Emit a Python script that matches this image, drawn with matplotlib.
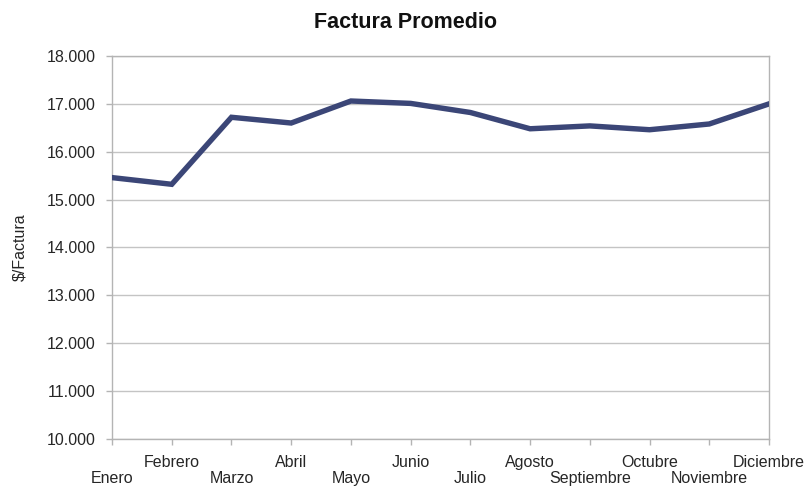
import matplotlib.pyplot as plt
from matplotlib.ticker import FuncFormatter, MultipleLocator, FixedLocator, FixedFormatter

plt.rcParams['font.family'] = ['Liberation Sans', 'DejaVu Sans']

meses = ['Enero', 'Febrero', 'Marzo', 'Abril', 'Mayo', 'Junio', 'Julio',
         'Agosto', 'Septiembre', 'Octubre', 'Noviembre', 'Diciembre']
factura = [15460, 15320, 16720, 16600, 17060, 17010, 16820,
           16480, 16540, 16460, 16580, 17000]

grey = '#b4b4b4'
txt = '#262626'

fig = plt.figure(figsize=(8.07, 4.87), dpi=100)
ax = fig.add_axes([0.1388, 0.0986, 0.9529 - 0.1388, 0.885 - 0.0986])

x = list(range(len(meses)))
ax.plot(x, factura, color='#3b4677', lw=3.9, solid_joinstyle='miter', zorder=3)

ax.set_xlim(0, len(meses) - 1)
ax.set_ylim(10000, 18000)
ax.yaxis.set_major_locator(MultipleLocator(1000))
ax.yaxis.set_major_formatter(FuncFormatter(lambda v, p: f"{v:,.0f}".replace(",", ".")))
ax.grid(axis='y', color='#c4c4c4', lw=1.0)
ax.set_axisbelow(True)

# staggered month labels: even months on the lower row (major), odd on the upper row (minor)
ax.xaxis.set_major_locator(FixedLocator(x[0::2]))
ax.xaxis.set_major_formatter(FixedFormatter(meses[0::2]))
ax.xaxis.set_minor_locator(FixedLocator(x[1::2]))
ax.xaxis.set_minor_formatter(FixedFormatter(meses[1::2]))

ax.tick_params(axis='both', which='both', direction='out', length=4, width=1, color=grey,
               labelsize=11.5, labelcolor=txt)
ax.tick_params(axis='x', which='major', pad=19)
ax.tick_params(axis='x', which='minor', pad=7.5)
ax.tick_params(axis='y', pad=8)
for s in ax.spines.values():
    s.set_color(grey)
    s.set_linewidth(1.0)

ax.set_ylabel('$/Factura', fontsize=11.5, color=txt, labelpad=14)
fig.text(406 / 807, 1 - 22 / 487, 'Factura Promedio', fontsize=15.5, fontweight='bold',
         color='#111111', ha='center', va='center')

fig.savefig('out.png', dpi=100)
